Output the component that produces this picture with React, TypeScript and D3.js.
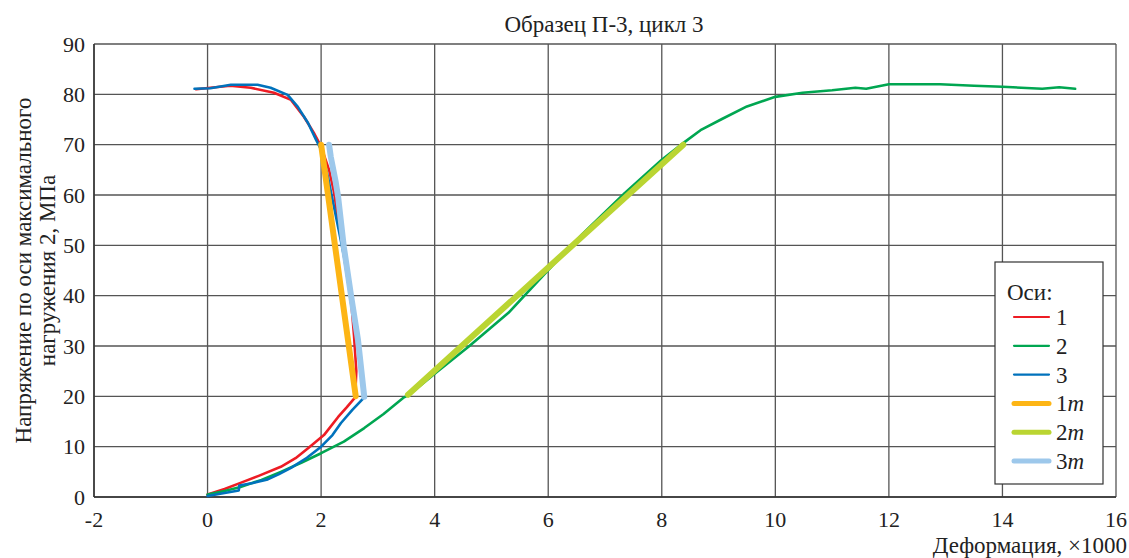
import React from 'react';
import * as d3 from 'd3';

// Axes 1, 2, 3 (measured) and 1m, 2m, 3m (model); [deformation x1000, stress MPa]
const axis1: [number, number][] = [
  [0, 0.5], [0.3, 1.6], [0.58, 2.8], [0.9, 4.2], [1.29, 6], [1.55, 7.7], [1.77, 9.7],
  [2.05, 12.3], [2.3, 15.9], [2.45, 17.8], [2.6, 19.8],
  [2.62, 25], [2.58, 32], [2.54, 37.5], [2.47, 43.5], [2.38, 49.7], [2.3, 55], [2.23, 60.4],
  [2.14, 65], [2.0, 69.6], [1.87, 72.4], [1.7, 75.5], [1.47, 78.9], [1.17, 80.3],
  [0.76, 81.3], [0.4, 81.7], [0.05, 81.3], [-0.2, 81]
];

const axis2: [number, number][] = [
  [0, 0.5], [0.3, 1.2], [0.58, 2], [0.95, 3.4], [1.29, 5], [1.65, 6.8], [2.0, 8.7],
  [2.4, 11], [2.76, 13.7], [3.1, 16.5], [3.46, 19.8], [3.55, 20.3], [4.0, 24.5],
  [4.59, 29.8], [5.3, 36.6], [6.0, 45.1], [6.6, 52.2], [7.35, 60.4], [8.0, 67],
  [8.4, 70.5], [8.7, 73], [9.06, 75.1], [9.5, 77.6], [10, 79.5], [10.48, 80.3],
  [11, 80.8], [11.41, 81.3], [11.6, 81.1], [12, 82], [12.9, 82], [13.5, 81.7],
  [14, 81.5], [14.7, 81.1], [15, 81.4], [15.28, 81.1]
];

const axis3: [number, number][] = [
  [0, 0.2], [0.3, 0.8], [0.55, 1.3], [0.56, 2.3], [0.8, 2.8], [1.06, 3.5], [1.25, 4.5],
  [1.47, 5.8], [1.75, 7.8], [2.0, 10], [2.2, 12.3], [2.35, 14.7], [2.55, 17.3], [2.76, 19.8],
  [2.7, 26], [2.61, 33.2], [2.47, 43], [2.4, 48], [2.32, 52.5], [2.22, 58], [2.12, 63.6],
  [2.0, 69], [1.91, 71], [1.77, 74.3], [1.59, 77.5], [1.41, 79.9], [1.11, 81.3],
  [0.88, 81.9], [0.41, 81.9], [0.05, 81.2], [-0.23, 81.1]
];

const axis1m: [number, number][] = [[2.0, 70], [2.61, 20]];
const axis2m: [number, number][] = [[3.53, 20.3], [8.38, 70]];
const axis3m: [number, number][] = [
  [2.14, 70], [2.17, 67.6], [2.26, 62.4], [2.3, 59.6], [2.4, 49.7], [2.53, 39.8],
  [2.65, 31.2], [2.76, 19.9]
];

const xTicks = [-2, 0, 2, 4, 6, 8, 10, 12, 14, 16];
const yTicks = [0, 10, 20, 30, 40, 50, 60, 70, 80, 90];

const series = [
  { name: '1', italic: false, data: axis1, color: '#ed1c24', width: 2.6 },
  { name: '2', italic: false, data: axis2, color: '#00a651', width: 2.6 },
  { name: '3', italic: false, data: axis3, color: '#0072bc', width: 2.6 },
  { name: '1', italic: true, data: axis1m, color: '#fdb515', width: 6 },
  { name: '2', italic: true, data: axis2m, color: '#bad532', width: 6 },
  { name: '3', italic: true, data: axis3m, color: '#9dc8eb', width: 6 },
];

const W = 1129;
const H = 558;
const margin = { top: 44, right: 13, bottom: 61, left: 94 };
const font = "'Liberation Serif', 'DejaVu Serif', serif";

export default function App() {
  const x = d3.scaleLinear().domain([-2, 16]).range([margin.left, W - margin.right]);
  const y = d3.scaleLinear().domain([0, 90]).range([H - margin.bottom, margin.top]);
  const line = d3.line<[number, number]>().x(d => x(d[0])).y(d => y(d[1]));

  const lx = 995, ly = 262;
  const txt = { fontFamily: font, fill: '#222' };

  return (
    <div style={{ position: 'absolute', left: 0, top: 0 }}>
      <svg width={W} height={H} style={{ display: 'block', background: '#fff', fontFamily: font }}>
        {/* grid */}
        {yTicks.map(t => (
          <line key={'gy' + t} x1={x(-2)} x2={x(16)} y1={y(t)} y2={y(t)} stroke="#555" strokeWidth={1.3} />
        ))}
        {xTicks.map(t => (
          <line key={'gx' + t} x1={x(t)} x2={x(t)} y1={y(0)} y2={y(90)} stroke="#555" strokeWidth={1.3} />
        ))}
        <line x1={x(-2)} x2={x(-2)} y1={y(0)} y2={y(90)} stroke="#333" strokeWidth={1.5} />
        <line x1={x(-2)} x2={x(16)} y1={y(0)} y2={y(0)} stroke="#333" strokeWidth={1.5} />

        {/* tick labels */}
        {yTicks.map(t => (
          <text key={'ty' + t} x={x(-2) - 9} y={y(t)} dy="0.35em" textAnchor="end" fontSize={22} style={txt}>{t}</text>
        ))}
        {xTicks.map(t => (
          <text key={'tx' + t} x={x(t)} y={527} textAnchor="middle" fontSize={22} style={txt}>{t}</text>
        ))}

        {/* series */}
        {series.map((s, i) => (
          <path key={'s' + i} d={line(s.data) || ''} fill="none" stroke={s.color} strokeWidth={s.width}
            strokeLinejoin="round" strokeLinecap="round" />
        ))}

        {/* titles */}
        <text x={604} y={32} textAnchor="middle" fontSize={23} style={txt}>Образец П-3, цикл 3</text>
        <text x={W - 2} y={553} textAnchor="end" fontSize={23} style={txt}>Деформация, ×1000</text>
        <g transform={`translate(23, ${y(45)}) rotate(-90)`}>
          <text x={0} y={0} dy="0.35em" textAnchor="middle" fontSize={23} style={txt}>Напряжение по оси максимального</text>
          <text x={0} y={24} dy="0.35em" textAnchor="middle" fontSize={23} style={txt}>нагружения 2, МПа</text>
        </g>

        {/* legend */}
        <rect x={lx} y={ly} width={108} height={222} fill="#fff" stroke="#333" strokeWidth={1.2} />
        <text x={lx + 12} y={ly + 38} fontSize={23} style={txt}>Оси:</text>
        {series.map((s, i) => {
          const yy = ly + 55 + i * 28.8;
          return (
            <g key={'l' + i}>
              <line x1={lx + 19} x2={lx + 54} y1={yy} y2={yy} stroke={s.color}
                strokeWidth={s.italic ? 5 : 2.2} strokeLinecap="round" />
              <text x={lx + 61} y={yy} dy="0.35em" fontSize={23} style={txt}>
                {s.name}
                {s.italic && <tspan fontStyle="italic">m</tspan>}
              </text>
            </g>
          );
        })}
      </svg>
    </div>
  );
}
